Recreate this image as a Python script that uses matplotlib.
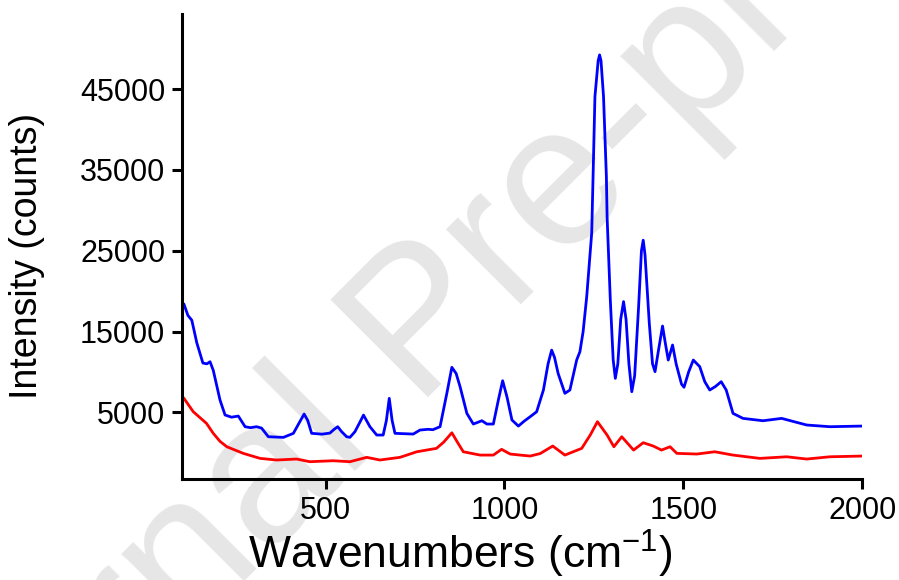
import matplotlib
matplotlib.use("Agg")
import matplotlib.pyplot as plt

plt.rcParams['font.family'] = ['Liberation Sans', 'DejaVu Sans']

# Blue spectrum (wavenumber, intensity)
blue_x = [100, 104, 115, 126, 140, 157, 168, 177, 186, 205, 219, 237, 256, 275, 290, 307, 321,
          340, 382, 410, 425, 440, 450, 461, 490, 512, 524, 534, 545, 559, 568, 582, 595, 606,
          624, 643, 661, 670, 678, 686, 694, 745, 764, 787, 800, 820, 839, 853, 865, 876, 895,
          913, 937, 951, 969, 983, 995, 1007, 1021, 1039, 1055, 1072, 1090, 1109, 1122, 1132,
          1140, 1150, 1169, 1183, 1202, 1211, 1220, 1230, 1244, 1248, 1253, 1262, 1266, 1270,
          1277, 1285, 1287, 1296, 1304, 1310, 1317, 1325, 1333, 1340, 1348, 1356, 1364, 1375,
          1383, 1388, 1393, 1405, 1414, 1421, 1430, 1442, 1450, 1458, 1470, 1480, 1495, 1502,
          1515, 1528, 1546, 1560, 1574, 1590, 1606, 1620, 1639, 1667, 1723, 1775, 1845, 1910, 2000]
blue_y = [18500, 18400, 17000, 16400, 13600, 11100, 11000, 11260, 10200, 6500, 4670, 4400, 4540,
          3220, 3100, 3220, 3050, 1980, 1900, 2400, 3600, 4790, 4000, 2400, 2300, 2430, 2900, 3220,
          2600, 1980, 1900, 2600, 3700, 4660, 3220, 2190, 2190, 4000, 6730, 4000, 2400, 2310, 2810,
          2900, 2850, 3220, 7350, 10570, 9800, 8170, 4870, 3550, 3960, 3550, 3550, 6520, 8910,
          6930, 4050, 3300, 3900, 4460, 5070, 7760, 11000, 12700, 11800, 9830, 7350, 7760, 11480,
          12500, 15000, 19300, 27200, 34600, 44070, 48500, 49230, 48500, 44070, 34170, 29200,
          18900, 11500, 9200, 11000, 16500, 18700, 16500, 11000, 7550, 9500, 18000, 25000, 26300,
          24500, 16000, 11000, 10030, 12500, 15680, 13500, 11470, 13330, 11000, 8500, 8100, 10000,
          11470, 10650, 8800, 7760, 8200, 8790, 7760, 4870, 4250, 3960, 4250, 3430, 3220, 3300]

# Red spectrum (wavenumber, intensity)
red_x = [100, 104, 130, 150, 167, 186, 205, 224, 270, 317, 363, 419, 456, 521, 568, 615, 652,
         708, 755, 810, 830, 853, 870, 885, 932, 969, 992, 1016, 1044, 1072, 1100, 1135, 1169,
         1216, 1240, 1260, 1287, 1306, 1328, 1361, 1388, 1416, 1439, 1463, 1482, 1538, 1588,
         1639, 1714, 1789, 1845, 1910, 2000]
red_y = [6900, 6730, 5080, 4300, 3640, 2400, 1400, 740, -80, -700, -900, -780, -1110, -990, -1110,
         -570, -900, -570, 120, 540, 1300, 2470, 1200, 120, -290, -290, 420, -160, -290, -410,
         -100, 830, -290, 540, 2200, 3840, 2190, 740, 1980, 330, 1240, 830, 330, 740, -80, -160,
         120, -290, -700, -500, -780, -500, -410]

x_ticks = [500, 1000, 1500, 2000]
y_ticks = [5000, 15000, 25000, 35000, 45000]

fig = plt.figure(figsize=(8.99, 5.80), dpi=100)
ax = fig.add_axes([0.203, 0.174, 0.756, 0.802])
ax.set_facecolor('none')

fig.text(0.512, 0.371, "Journal Pre-proof", rotation=45, rotation_mode='anchor',
         ha='center', va='baseline', fontsize=145, color='#e6e6e6', zorder=-1)

ax.plot(blue_x, blue_y, color='#0000ff', lw=2.0)
ax.plot(red_x, red_y, color='#ff0000', lw=2.0)

ax.set_xlim(100, 2000)
ax.set_ylim(-3260, 54300)
ax.set_xticks(x_ticks)
ax.set_yticks(y_ticks)
for s in ['top', 'right']:
    ax.spines[s].set_visible(False)
for s in ['left', 'bottom']:
    ax.spines[s].set_linewidth(2.2)
ax.tick_params(direction='out', length=7.5, width=2.2, labelsize=22, pad=5)

ax.set_xlabel('Wavenumbers (cm$^{\\mathregular{-1}}$)', fontsize=32, va='top')
ax.xaxis.set_label_coords(0.408, -0.104)
ax.set_ylabel('Intensity (counts)', fontsize=27)
ax.yaxis.set_label_coords(-0.202, 0.48)

fig.savefig('out.png', dpi=100)
